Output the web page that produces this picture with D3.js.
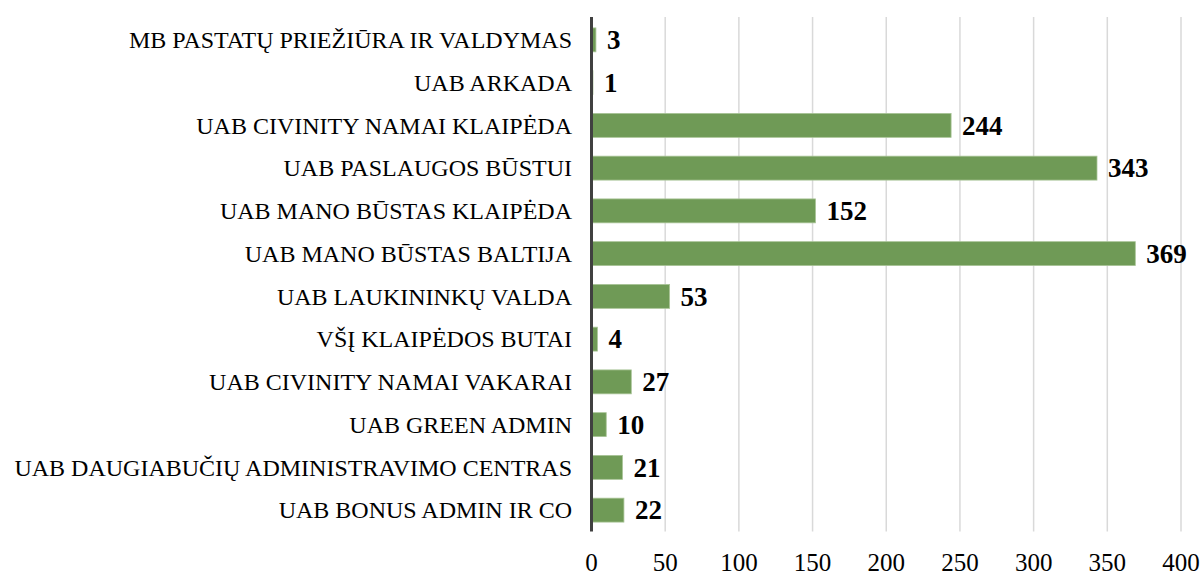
<!DOCTYPE html>
<html>
<head>
<meta charset="utf-8">
<script src="https://cdn.jsdelivr.net/npm/d3@7"></script>
<style>
  body { margin: 0; background: #fff; }
  text { font-family: "Liberation Serif", "Times New Roman", serif; }
</style>
</head>
<body>
<script>
var categories = [
  'MB PASTATŲ PRIEŽIŪRA IR VALDYMAS',
  'UAB ARKADA',
  'UAB CIVINITY NAMAI KLAIPĖDA',
  'UAB PASLAUGOS BŪSTUI',
  'UAB MANO BŪSTAS KLAIPĖDA',
  'UAB MANO BŪSTAS BALTIJA',
  'UAB LAUKININKŲ VALDA',
  'VŠĮ KLAIPĖDOS BUTAI',
  'UAB CIVINITY NAMAI VAKARAI',
  'UAB GREEN ADMIN',
  'UAB DAUGIABUČIŲ ADMINISTRAVIMO CENTRAS',
  'UAB BONUS ADMIN IR CO'
];
var values = [3, 1, 244, 343, 152, 369, 53, 4, 27, 10, 21, 22];
var ticks = [0, 50, 100, 150, 200, 250, 300, 350, 400];

var svgWidth = 1203, svgHeight = 575;
var plotLeft = 591.5, plotRight = 1181, plotTop = 18.5, plotBottom = 531.5;

var svg = d3.select('body').append('svg')
    .attr('width', svgWidth)
    .attr('height', svgHeight);

var x = d3.scaleLinear().domain([0, 400]).range([plotLeft, plotRight]);
var y = d3.scaleBand().domain(categories).range([plotTop, plotBottom]).paddingInner(0.44).paddingOuter(0.22);

// gridlines
svg.selectAll('line.grid')
    .data(ticks.slice(1))
    .enter()
    .append('line')
    .attr('class', 'grid')
    .attr('x1', function(d) { return x(d); })
    .attr('x2', function(d) { return x(d); })
    .attr('y1', 17)
    .attr('y2', plotBottom)
    .attr('stroke', '#d9d9d9')
    .attr('stroke-width', 1.5);

// bars
svg.selectAll('rect.bar')
    .data(values)
    .enter()
    .append('rect')
    .attr('class', 'bar')
    .attr('x', x(0))
    .attr('y', function(d, i) { return y(categories[i]); })
    .attr('width', function(d) { return x(d) - x(0); })
    .attr('height', y.bandwidth())
    .attr('fill', '#6f9a56')
    .attr('stroke', '#a9c497')
    .attr('stroke-width', 0.8);

// value labels
svg.selectAll('text.val')
    .data(values)
    .enter()
    .append('text')
    .attr('class', 'val')
    .attr('x', function(d) { return x(d) + 11; })
    .attr('y', function(d, i) { return y(categories[i]) + y.bandwidth() / 2; })
    .attr('dy', '0.34em')
    .attr('font-size', 27)
    .attr('font-weight', 'bold')
    .text(function(d) { return d; });

// category labels
svg.selectAll('text.cat')
    .data(categories)
    .enter()
    .append('text')
    .attr('class', 'cat')
    .attr('x', 572)
    .attr('y', function(d) { return y(d) + y.bandwidth() / 2; })
    .attr('dy', '0.34em')
    .attr('text-anchor', 'end')
    .attr('font-size', 24)
    .attr('fill', '#000')
    .text(function(d) { return d; });

// x tick labels
svg.selectAll('text.tick')
    .data(ticks)
    .enter()
    .append('text')
    .attr('class', 'tick')
    .attr('x', function(d) { return x(d); })
    .attr('y', 571)
    .attr('text-anchor', 'middle')
    .attr('font-size', 25)
    .text(function(d) { return d; });

// vertical axis line
svg.append('line')
    .attr('x1', x(0)).attr('x2', x(0))
    .attr('y1', 17).attr('y2', plotBottom)
    .attr('stroke', '#404040')
    .attr('stroke-width', 3);
</script>
</body>
</html>
